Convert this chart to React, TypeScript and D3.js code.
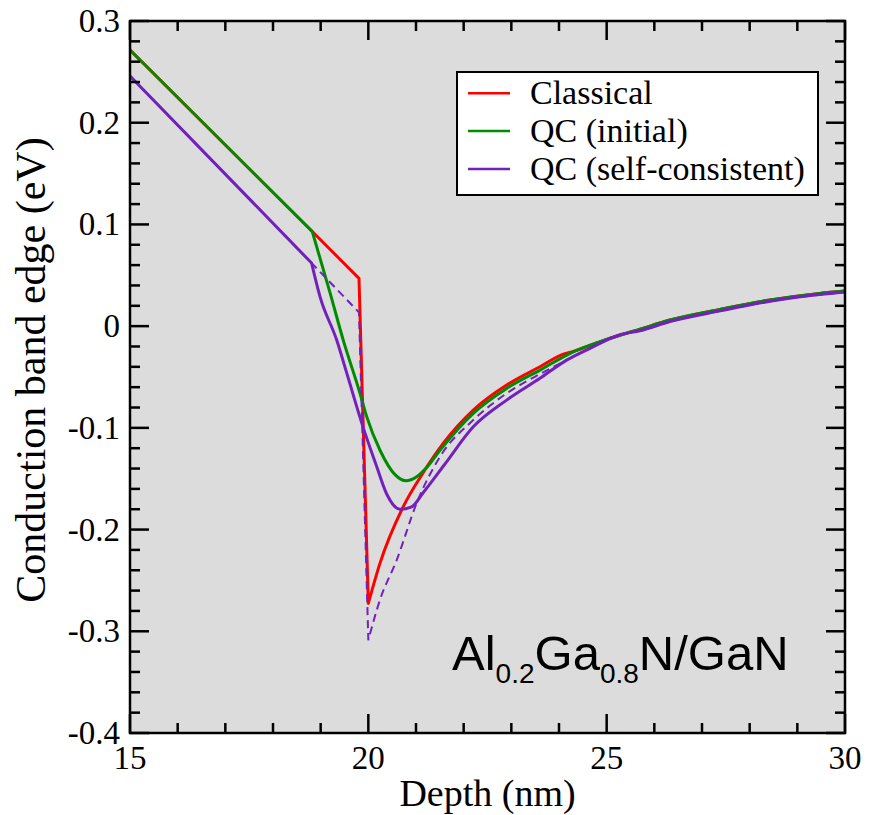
import React from "react";
import * as d3 from "d3";

// ---- data (depth nm, conduction band edge eV) ----
// each series: straight (kinked) part, then smooth part
const classicalStraight: [number, number][] = [
  [15.0, 0.2715], [18.824, 0.093], [19.804, 0.047], [20.0, -0.2726],
];
const classicalSmooth: [number, number][] = [
  [20.0, -0.2726], [20.245, -0.233], [20.727, -0.178], [21.146, -0.1444],
  [21.57, -0.1153], [22.202, -0.0825], [22.902, -0.0579], [23.601, -0.0399],
  [24.09, -0.0275], [24.3, -0.0248], [25.0, -0.013], [25.7, -0.003],
  [26.33, 0.006], [27.38, 0.0165], [28.43, 0.0257], [29.47, 0.0322], [30.0, 0.0345],
];

const qcInitialStraight: [number, number][] = [[15.0, 0.2715], [18.824, 0.093]];
const qcInitialSmooth: [number, number][] = [
  [18.824, 0.093], [19.196, 0.033], [19.475, -0.014], [19.825, -0.066],
  [19.966, -0.089], [20.245, -0.122], [20.56, -0.146], [20.79, -0.152],
  [21.014, -0.148], [21.224, -0.139], [21.503, -0.122], [22.202, -0.0857],
  [22.902, -0.0612], [23.601, -0.0432], [24.3, -0.0252], [25.0, -0.013],
  [25.7, -0.003], [26.33, 0.006], [27.38, 0.0165], [28.43, 0.0257],
  [29.47, 0.0322], [30.0, 0.0345],
];

const qcSelfStraight: [number, number][] = [[15.0, 0.246], [18.81, 0.062]];
const qcSelfSmooth: [number, number][] = [
  [18.81, 0.062], [18.986, 0.029], [19.336, -0.0137], [19.546, -0.046],
  [19.888, -0.099], [20.175, -0.138], [20.385, -0.165], [20.664, -0.18],
  [20.909, -0.1776], [21.146, -0.164], [21.6, -0.136], [22.202, -0.099],
  [22.902, -0.0727], [23.601, -0.0513], [24.16, -0.0334], [24.65, -0.0218],
  [25.28, -0.0085], [25.7, -0.0045], [26.33, 0.0045], [27.38, 0.015],
  [28.43, 0.0245], [29.47, 0.031], [30.0, 0.0335],
];

const qcDashedStraight: [number, number][] = [
  [15.0, 0.246], [18.81, 0.062], [19.804, 0.0135], [20.0, -0.3087],
];
const qcDashedSmooth: [number, number][] = [
  [20.0, -0.3087], [20.245, -0.269], [20.595, -0.23], [21.014, -0.174],
  [21.503, -0.1284], [22.202, -0.0923], [22.902, -0.0661], [23.601, -0.047],
  [24.16, -0.0334], [24.65, -0.0218], [25.28, -0.0085], [25.7, -0.0045],
  [26.33, 0.0045], [27.38, 0.015], [28.43, 0.0245], [29.47, 0.031], [30.0, 0.0335],
];

const xMajorTicks = [15, 20, 25, 30];
const xTickLabels = ["15", "20", "25", "30"];
const yMajorTicks = [0.3, 0.2, 0.1, 0, -0.1, -0.2, -0.3, -0.4];
const yTickLabels = ["0.3", "0.2", "0.1", "0", "-0.1", "-0.2", "-0.3", "-0.4"];
const legendLabels = ["Classical", "QC (initial)", "QC (self-consistent)"];
const legendColors = ["#ff0000", "#008b00", "#7221bc"];

const SERIF = "Liberation Serif";
const SANS = "Liberation Sans";

export default function App() {
  const W = 874;
  const H = 815;
  const left = 130, right = 845, top = 21, bottom = 733;
  const x = d3.scaleLinear().domain([15, 30]).range([left, right]);
  const y = d3.scaleLinear().domain([-0.4, 0.3]).range([bottom, top]);
  const straight = d3
    .line<[number, number]>()
    .x((d) => x(d[0]))
    .y((d) => y(d[1]))
    .curve(d3.curveLinear);
  const smooth = d3
    .line<[number, number]>()
    .x((d) => x(d[0]))
    .y((d) => y(d[1]))
    .curve(d3.curveMonotoneX);
  const joined = (a: [number, number][], b: [number, number][]) =>
    (straight(a) || "") + (smooth(b) || "").replace(/^M/, "L");

  const xMinor = d3.range(16, 30, 1).filter((v) => v % 5 !== 0);
  const yMinor = d3.range(-0.4, 0.3001, 0.02).filter((v) => Math.abs(v * 10 - Math.round(v * 10)) > 1e-6);

  const MAJ = 19, MIN = 10;
  const sw = 2.5;
  const serifStyle = { fontFamily: SERIF };

  return (
    <svg
      width={W}
      height={H}
      style={{ position: "absolute", left: 0, top: 0, display: "block", background: "#fff" }}
    >
      <rect x={left} y={top} width={right - left} height={bottom - top} fill="#dcdcdc" />

      {/* curves */}
      <path d={joined(classicalStraight, classicalSmooth)} fill="none" stroke={legendColors[0]} strokeWidth={3} strokeLinejoin="round" />
      <path d={joined(qcInitialStraight, qcInitialSmooth)} fill="none" stroke={legendColors[1]} strokeWidth={3} strokeLinejoin="round" />
      <path d={joined(qcSelfStraight, qcSelfSmooth)} fill="none" stroke={legendColors[2]} strokeWidth={3} strokeLinejoin="round" />
      <path d={joined(qcDashedStraight, qcDashedSmooth)} fill="none" stroke={legendColors[2]} strokeWidth={2} strokeDasharray="8,5" />

      {/* frame */}
      <rect x={left} y={top} width={right - left} height={bottom - top} fill="none" stroke="#000" strokeWidth={sw} />

      {/* x ticks */}
      {xMajorTicks.map((v) => (
        <g key={"xm" + v}>
          <line x1={x(v)} x2={x(v)} y1={bottom} y2={bottom - MAJ} stroke="#000" strokeWidth={sw} />
          <line x1={x(v)} x2={x(v)} y1={top} y2={top + MAJ} stroke="#000" strokeWidth={sw} />
        </g>
      ))}
      {xMinor.map((v) => (
        <g key={"xn" + v}>
          <line x1={x(v)} x2={x(v)} y1={bottom} y2={bottom - MIN} stroke="#000" strokeWidth={sw} />
          <line x1={x(v)} x2={x(v)} y1={top} y2={top + MIN} stroke="#000" strokeWidth={sw} />
        </g>
      ))}
      {xMajorTicks.map((v, i) => (
        <text key={"xl" + v} x={x(v)} y={769} textAnchor="middle" style={serifStyle} fontSize={33} fill="#000">
          {xTickLabels[i]}
        </text>
      ))}

      {/* y ticks */}
      {yMajorTicks.map((v) => (
        <g key={"ym" + v}>
          <line x1={left} x2={left + MAJ} y1={y(v)} y2={y(v)} stroke="#000" strokeWidth={sw} />
          <line x1={right} x2={right - MAJ} y1={y(v)} y2={y(v)} stroke="#000" strokeWidth={sw} />
        </g>
      ))}
      {yMinor.map((v) => (
        <g key={"yn" + v.toFixed(3)}>
          <line x1={left} x2={left + MIN} y1={y(v)} y2={y(v)} stroke="#000" strokeWidth={sw} />
          <line x1={right} x2={right - MIN} y1={y(v)} y2={y(v)} stroke="#000" strokeWidth={sw} />
        </g>
      ))}
      {yMajorTicks.map((v, i) => (
        <text key={"yl" + v} x={120} y={y(v) + 11} textAnchor="end" style={serifStyle} fontSize={33} fill="#000">
          {yTickLabels[i]}
        </text>
      ))}

      {/* axis titles */}
      <text x={(left + right) / 2} y={806} textAnchor="middle" style={serifStyle} fontSize={38} fill="#000">
        Depth (nm)
      </text>
      <text
        transform={`translate(45, 370) rotate(-90)`}
        textAnchor="middle"
        style={serifStyle}
        fontSize={42}
        fill="#000"
      >
        Conduction band edge (eV)
      </text>

      {/* legend */}
      <rect x={457} y={72} width={361} height={123} fill="#fff" stroke="#000" strokeWidth={2} />
      {legendLabels.map((lab, i) => {
        const ly = 93.3 + i * 37.8;
        return (
          <g key={lab}>
            <line x1={468} x2={510} y1={ly} y2={ly} stroke={legendColors[i]} strokeWidth={2.5} />
            <text x={530} y={ly + 11} style={serifStyle} fontSize={34} fill="#000">
              {lab}
            </text>
          </g>
        );
      })}

      {/* annotation */}
      <text x={452} y={670} style={{ fontFamily: SANS }} fontSize={49} fill="#000">
        Al
        <tspan fontSize={28} dy={13}>0.2</tspan>
        <tspan dy={-13}>Ga</tspan>
        <tspan fontSize={28} dy={13}>0.8</tspan>
        <tspan dy={-13}>N/GaN</tspan>
      </text>
    </svg>
  );
}
